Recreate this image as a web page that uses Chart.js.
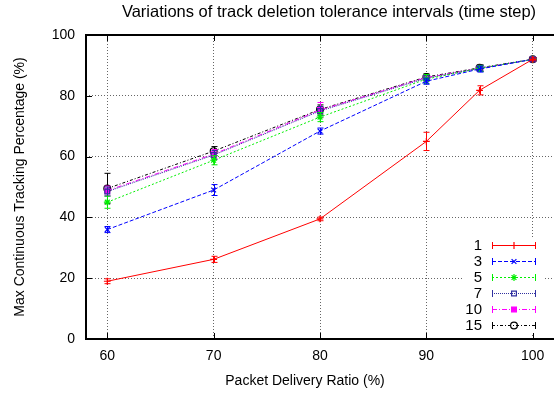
<!DOCTYPE html>
<html>
<head>
<meta charset="utf-8">
<script src="https://cdn.jsdelivr.net/npm/chart.js@4.4.1/dist/chart.umd.min.js"></script>
<style>
html, body { margin: 0; padding: 0; background: #fff; }
canvas { display: block; }
</style>
</head>
<body>
<canvas id="myChart" width="554" height="394"></canvas>
<script>
// packet delivery ratio (%) on x
const pdr = [60, 70, 80, 90, 95, 100];
const xTicks = [60, 70, 80, 90, 100];
const yTicks = [0, 20, 40, 60, 80, 100];
const seriesNames = ['1', '3', '5', '7', '10', '15'];

// max continuous tracking percentage, one list per tolerance interval
const track1  = [19.0, 26.2, 39.5, 65.0, 81.8, 92.0];
const track3  = [36.0, 49.0, 68.4, 84.8, 88.8, 92.0];
const track5  = [45.0, 58.8, 73.0, 85.5, 89.0, 92.0];
const track7  = [48.5, 60.5, 75.0, 85.8, 89.0, 92.0];
const track10 = [48.8, 60.8, 75.3, 86.0, 89.0, 92.0];
const track15 = [49.5, 61.8, 75.5, 86.2, 89.2, 92.0];

// error bar half-widths
const err1  = [0.8, 1.0, 0.6, 3.0, 1.5, 0.5];
const err3  = [1.0, 1.8, 1.0, 1.0, 1.0, 0.5];
const err5  = [2.0, 1.5, 1.5, 1.5, 1.0, 0.5];
const err7  = [1.5, 1.5, 1.5, 1.0, 1.0, 0.5];
const err10 = [1.5, 1.5, 2.5, 1.0, 1.0, 0.5];
const err15 = [5.0, 1.5, 1.5, 1.0, 1.0, 0.5];

const FONT = '"Liberation Sans", Arial, Helvetica, sans-serif';

const styles = [
    { color: '#ff0000', dash: [],           point: 'cross',    fill: '#ff0000' },
    { color: '#0000ff', dash: [4, 2],       point: 'crossRot', fill: '#0000ff' },
    { color: '#00ee00', dash: [2, 2],       point: 'star',     fill: '#00ee00' },
    { color: '#3030a0', dash: [1, 1],       point: 'rect',     fill: 'rgba(0,0,0,0)' },
    { color: '#ff00ff', dash: [5, 2, 1, 2], point: 'rect',     fill: '#ff00ff' },
    { color: '#000000', dash: [3, 2, 1, 2], point: 'circle',   fill: 'rgba(0,0,0,0)' }
];
const values = [track1, track3, track5, track7, track10, track15];
const errors = [err1, err3, err5, err7, err10, err15];

let datasets = values.map((vals, i) => ({
    label: seriesNames[i],
    data: vals.map((v, j) => ({ x: pdr[j], y: v })),
    errs: errors[i],
    borderColor: styles[i].color,
    borderWidth: 1,
    borderDash: styles[i].dash,
    pointStyle: styles[i].point,
    pointRadius: 3.4,
    pointBorderWidth: 1.2,
    pointBackgroundColor: styles[i].fill,
    pointBorderColor: styles[i].color,
    tension: 0,
    fill: false
}));

// error bars under each dataset
const errorBars = {
    id: 'errorBars',
    beforeDatasetDraw(chart, args) {
        const ds = chart.data.datasets[args.index];
        const xs = chart.scales.x, ys = chart.scales.y;
        const ctx = chart.ctx;
        ctx.save();
        ctx.strokeStyle = ds.borderColor;
        ctx.lineWidth = 1;
        ctx.setLineDash([]);
        ds.data.forEach((p, j) => {
            const e = ds.errs[j];
            const px = Math.round(xs.getPixelForValue(p.x)) + 0.5;
            const top = ys.getPixelForValue(p.y + e), bot = ys.getPixelForValue(p.y - e);
            ctx.beginPath();
            ctx.moveTo(px, top); ctx.lineTo(px, bot);
            ctx.moveTo(px - 3, top); ctx.lineTo(px + 3, top);
            ctx.moveTo(px - 3, bot); ctx.lineTo(px + 3, bot);
            ctx.stroke();
        });
        ctx.restore();
    }
};

// frame, inward ticks, texts and gnuplot-like key
const decorations = {
    id: 'decorations',
    afterDraw(chart) {
        const ctx = chart.ctx;
        const a = chart.chartArea;
        const xs = chart.scales.x, ys = chart.scales.y;
        ctx.save();
        ctx.setLineDash([]);
        ctx.strokeStyle = '#000';
        ctx.lineWidth = 1;
        ctx.beginPath();
        xTicks.forEach(v => {
            const px = Math.round(xs.getPixelForValue(v)) + 0.5;
            ctx.moveTo(px, a.bottom); ctx.lineTo(px, a.bottom - 6);
            ctx.moveTo(px, a.top); ctx.lineTo(px, a.top + 6);
        });
        yTicks.forEach(v => {
            const py = Math.round(ys.getPixelForValue(v)) + 0.5;
            ctx.moveTo(a.left, py); ctx.lineTo(a.left + 6, py);
        });
        ctx.stroke();
        ctx.lineWidth = 2;
        ctx.strokeRect(a.left, a.top, a.right - a.left + 4, a.bottom - a.top);

        ctx.fillStyle = '#000';
        ctx.textAlign = 'center';
        ctx.textBaseline = 'middle';
        ctx.font = '16.5px ' + FONT;
        ctx.fillText('Variations of track deletion tolerance intervals (time step)', 329, 12);
        ctx.font = '14px ' + FONT;
        ctx.fillText('Packet Delivery Ratio (%)', 305, 381);
        ctx.save();
        ctx.translate(20, (a.top + a.bottom) / 2);
        ctx.rotate(-Math.PI / 2);
        ctx.fillText('Max Continuous Tracking Percentage (%)', 0, 0);
        ctx.restore();

        // key
        ctx.fillStyle = '#fff';
        ctx.fillRect(462, 237, 82, 96);
        chart.data.datasets.forEach((ds, i) => {
            const y = 245 + i * 16;
            ctx.fillStyle = '#000';
            ctx.font = '15px ' + FONT;
            ctx.textAlign = 'right';
            ctx.fillText(ds.label, 482, y + 1);
            ctx.strokeStyle = ds.borderColor;
            ctx.lineWidth = 1;
            ctx.setLineDash(ds.borderDash);
            ctx.beginPath();
            ctx.moveTo(492, y + 0.5); ctx.lineTo(536, y + 0.5);
            ctx.stroke();
            ctx.setLineDash([]);
            ctx.beginPath();
            ctx.moveTo(492.5, y - 3); ctx.lineTo(492.5, y + 4);
            ctx.moveTo(535.5, y - 3); ctx.lineTo(535.5, y + 4);
            ctx.stroke();
            ctx.fillStyle = ds.pointBackgroundColor;
            ctx.strokeStyle = ds.pointBorderColor;
            ctx.lineWidth = 1.2;
            Chart.helpers.drawPoint(ctx, {
                pointStyle: ds.pointStyle, radius: 3.4, borderWidth: 1.2, rotation: 0
            }, 514, y + 0.5);
        });
        ctx.restore();
    }
};

const ctx = document.getElementById('myChart');
new Chart(ctx, {
    type: 'line',
    data: { datasets: datasets },
    plugins: [errorBars, decorations],
    options: {
        responsive: false,
        animation: false,
        devicePixelRatio: 1,
        layout: { autoPadding: false, padding: { left: 0, right: 0, top: 35, bottom: 0 } },
        plugins: { legend: { display: false }, tooltip: { enabled: false } },
        scales: {
            x: {
                type: 'linear',
                min: 58,
                max: 102,
                afterBuildTicks: s => { s.ticks = xTicks.map(v => ({ value: v })); },
                afterFit: s => { s.height = 55; s.paddingLeft = 0; s.paddingRight = 0; },
                grid: { color: '#666', lineWidth: 1, drawTicks: false },
                border: { display: false, dash: [1, 2] },
                ticks: { color: '#000', padding: 9, font: { family: FONT, size: 14 } }
            },
            y: {
                min: 0,
                max: 100,
                afterBuildTicks: s => { s.ticks = yTicks.map(v => ({ value: v })); },
                afterFit: s => { s.width = 86; s.paddingTop = 0; s.paddingBottom = 0; },
                grid: { color: '#666', lineWidth: 1, drawTicks: false },
                border: { display: false, dash: [1, 2] },
                ticks: { color: '#000', padding: 11, font: { family: FONT, size: 14 } }
            }
        }
    }
});
</script>
</body>
</html>
